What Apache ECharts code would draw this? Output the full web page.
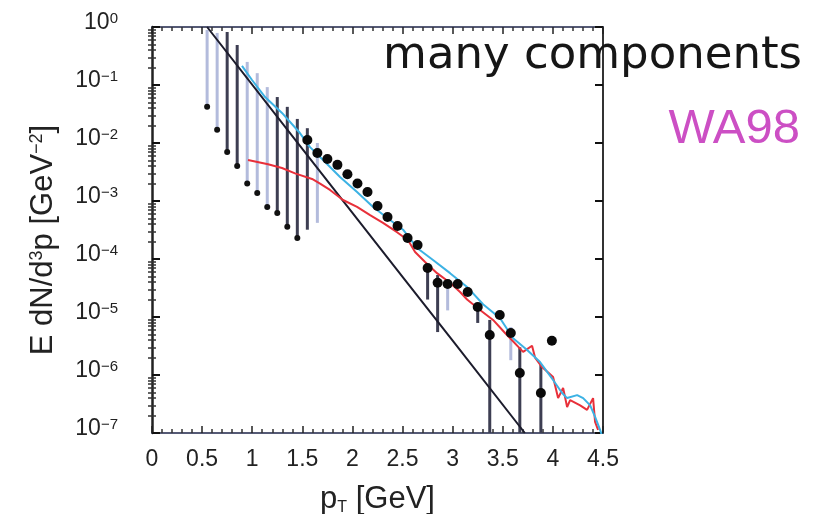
<!DOCTYPE html>
<html><head><meta charset="utf-8">
<script src="https://cdn.jsdelivr.net/npm/echarts@6/dist/echarts.min.js"></script>
<style>html,body{margin:0;padding:0;background:#fff}#c{width:824px;height:514px}</style>
</head><body><div id="c"></div>
<script>
// ---- data ----
// big data points
const ptMeas  = [1.55,1.65,1.75,1.85,1.95,2.05,2.15,2.25,2.35,2.45,2.55,2.65,2.75,2.85,2.95,3.05,3.15,3.25,3.37,3.47,3.58,3.67,3.88,3.99];
const valMeas = [1.13e-2,6.7e-3,5.3e-3,4.2e-3,2.9e-3,2.0e-3,1.43e-3,8.2e-4,5.3e-4,3.7e-4,2.3e-4,1.74e-4,7.0e-5,3.9e-5,3.7e-5,3.7e-5,2.7e-5,1.49e-5,4.9e-6,1.08e-5,5.3e-6,1.08e-6,4.9e-7,3.9e-6];
// small low-pT points
const ptLow  = [0.55,0.65,0.75,0.85,0.95,1.05,1.15,1.25,1.35,1.45];
const valLow = [4.2e-2,1.7e-2,7.0e-3,4.0e-3,2.0e-3,1.37e-3,7.9e-4,6.2e-4,3.6e-4,2.3e-4];
// error bars (dark)
const barDarkPt = [0.75,0.85,1.25,1.35,1.45,1.55,2.75,2.85,3.25,3.37,3.67,3.88];
const barDarkLo = [7.0e-3,4.0e-3,6.2e-4,3.6e-4,2.3e-4,3.2e-4,2.0e-5,5.5e-6,7.9e-6,1e-7,1e-7,1e-7];
const barDarkHi = [0.82,0.49,6.2e-2,4.2e-2,2.6e-2,1.8e-2,7.0e-5,5.3e-5,1.5e-5,8.9e-6,3.0e-6,1.5e-6];
// error bars (light)
const barLightPt = [0.55,0.65,0.95,1.05,1.15,1.65,2.95,3.58];
const barLightLo = [4.2e-2,1.7e-2,2.0e-3,1.37e-3,7.9e-4,4.2e-4,1.3e-5,1.8e-6];
const barLightHi = [0.89,0.79,0.25,0.16,9.2e-2,1.0e-2,3.3e-5,6.7e-6];
// straight (exponential) black curve
const blackPt  = [0.55,1.5,2.5,3.0,3.72];
const blackVal = [1.0,7.9e-3,4.9e-5,3.9e-6,1.0e-7];
// cyan curve (total)
const cyanPt  = [0.898,0.998,1.128,1.297,1.467,1.577,1.707,1.876,2.046,2.206,2.375,2.505,2.645,2.804,2.974,3.144,3.303,3.473,3.603,3.743,3.872,4.002,4.092,4.142,4.242,4.302,4.372,4.421,4.471,4.5];
const cyanVal = [0.213,0.122,6.2e-2,3.3e-2,1.55e-2,8.5e-3,5.1e-3,2.6e-3,1.43e-3,7.9e-4,4.7e-4,3.2e-4,1.55e-4,9.6e-5,5.7e-5,3.3e-5,1.66e-5,9.5e-6,4.3e-6,2.7e-6,1.67e-6,8.2e-7,4.9e-7,4.0e-7,4.5e-7,4.0e-7,3.0e-7,1.9e-7,1.13e-7,8e-8];
// red curve
const redPt  = [0.958,1.158,1.297,1.427,1.597,1.677,1.776,1.906,2.046,2.176,2.305,2.445,2.555,2.625,2.725,2.844,2.974,3.074,3.144,3.273,3.403,3.523,3.703,3.792,3.822,3.892,4.002,4.052,4.102,4.142,4.172,4.272,4.341,4.401,4.421,4.451];
const redVal = [5.1e-3,4.3e-3,3.7e-3,3.0e-3,2.4e-3,2.0e-3,1.55e-3,1.04e-3,7.9e-4,5.7e-4,4.2e-4,2.9e-4,2.1e-4,1.32e-4,8.9e-5,5.7e-5,3.9e-5,2.7e-5,2.0e-5,1.32e-5,8.9e-6,5.3e-6,2.5e-6,3.2e-6,2.0e-6,1.37e-6,9.2e-7,4.0e-7,6.0e-7,2.8e-7,3.7e-7,3.0e-7,2.5e-7,4.0e-7,1.55e-7,1.13e-7];
// axis ticks
const xMin = 0, xMax = 4.5, xStep = 0.5;
const yMinExp = -7, yMaxExp = 0;
const labelMany = 'many components';
const labelExp = 'WA98';

// ---- chart ----
const FF = '"Liberation Sans", Arial, sans-serif';
const zip = (a, b) => a.map((v, i) => [v, b[i]]);
const zip3 = (a, b, c) => a.map((v, i) => [v, b[i], c[i]]);
const minorVals = [];
for (let e = yMinExp; e < yMaxExp; e++) for (let k = 2; k <= 9; k++) minorVals.push(k * Math.pow(10, e));

function barSeries(data, color) {
  return {
    type: 'custom', xAxisIndex: 0, yAxisIndex: 0, clip: true, z: 2,
    data: data, encode: { x: 0, y: [1, 2] },
    renderItem: function (params, api) {
      const p1 = api.coord([api.value(0), api.value(1)]);
      const p2 = api.coord([api.value(0), api.value(2)]);
      return { type: 'line', shape: { x1: p1[0], y1: p1[1], x2: p2[0], y2: p2[1] },
               style: { stroke: color, lineWidth: 3 } };
    }
  };
}

const chart = echarts.init(document.getElementById('c'), null, { renderer: 'canvas' });
const yAxisBase = { type: 'log', logBase: 10, min: Math.pow(10, yMinExp), max: Math.pow(10, yMaxExp), splitLine: { show: false } };
chart.setOption({
  animation: false,
  backgroundColor: '#fff',
  grid: { left: 152, top: 27, right: 221, bottom: 81, containLabel: false, outerBoundsMode: 'none' },
  xAxis: [
    { type: 'value', min: xMin, max: xMax, interval: xStep, position: 'bottom',
      axisLine: { show: true, onZero: false, lineStyle: { color: '#555a75', width: 2 } },
      axisTick: { inside: true, length: 7, lineStyle: { color: '#222', width: 1.5 } },
      minorTick: { show: true, splitNumber: 5, length: 4, lineStyle: { color: '#333', width: 1.5 } },
      splitLine: { show: false },
      axisLabel: { fontSize: 23, color: '#222', margin: 15, fontFamily: FF, showMinLabel: true, showMaxLabel: true },
      name: '{a|p}{t|T}{a| [GeV]}', nameLocation: 'middle', nameGap: 46,
      nameTextStyle: { rich: {
        a: { fontSize: 31, fontFamily: FF, color: '#222', verticalAlign: 'top', lineHeight: 32 },
        t: { fontSize: 16, fontFamily: FF, color: '#222', verticalAlign: 'bottom', lineHeight: 16, padding: [24, 0, 0, 0] } } } },
    { type: 'value', min: xMin, max: xMax, interval: xStep, position: 'top',
      axisLine: { show: true, onZero: false, lineStyle: { color: '#555a75', width: 2 } },
      axisTick: { inside: true, length: 7, lineStyle: { color: '#222', width: 1.5 } },
      minorTick: { show: true, splitNumber: 5, length: 4, lineStyle: { color: '#333', width: 1.5 } },
      splitLine: { show: false }, axisLabel: { show: false } }
  ],
  yAxis: [
    Object.assign({}, yAxisBase, { position: 'left', splitNumber: 7,
      axisLine: { show: true, onZero: false, lineStyle: { color: '#222', width: 2.5 } },
      axisTick: { inside: true, length: 8, lineStyle: { color: '#111', width: 2 } },
      axisLabel: { margin: 34, color: '#222', fontFamily: FF, showMinLabel: true, showMaxLabel: true, padding: [0, 0, 8, 0],
        formatter: function (v) { const e = Math.round(Math.log10(v)); return '{b|10}{s|' + (e < 0 ? '\u2212' + (-e) : e) + '}'; },
        rich: { b: { fontSize: 23, fontFamily: FF, color: '#222', verticalAlign: 'bottom', lineHeight: 23 },
                s: { fontSize: 15, fontFamily: FF, color: '#222', verticalAlign: 'top', lineHeight: 15, padding: [0, 0, 16, 0] } } },
      name: '{a|E dN/d}{s|3}{a|p [GeV}{s|\u22122}{a|]}', nameLocation: 'middle', nameGap: 90, nameRotate: 90,
      nameTextStyle: { padding: [0, 20, 0, 0], rich: {
        a: { fontSize: 31, fontFamily: FF, color: '#222', verticalAlign: 'bottom', lineHeight: 31 },
        s: { fontSize: 18, fontFamily: FF, color: '#222', verticalAlign: 'top', lineHeight: 18, padding: [0, 0, 18, 0] } } } }),
    Object.assign({}, yAxisBase, { position: 'right', splitNumber: 7,
      axisLine: { show: true, onZero: false, lineStyle: { color: '#333', width: 2 } },
      axisTick: { inside: true, length: 8, lineStyle: { color: '#111', width: 2 } },
      axisLabel: { show: false } }),
    Object.assign({}, yAxisBase, { position: 'left',
      axisLine: { show: false }, axisLabel: { show: false },
      axisTick: { inside: true, length: 4, customValues: minorVals, lineStyle: { color: '#333', width: 1.5 } } }),
    Object.assign({}, yAxisBase, { position: 'right',
      axisLine: { show: false }, axisLabel: { show: false },
      axisTick: { inside: true, length: 4, customValues: minorVals, lineStyle: { color: '#333', width: 1.5 } } })
  ],
  series: [
    barSeries(zip3(barLightPt, barLightLo, barLightHi), '#b3bbdc'),
    barSeries(zip3(barDarkPt, barDarkLo, barDarkHi), '#3d3e52'),
    { type: 'line', data: zip(blackPt, blackVal), showSymbol: false, z: 3,
      lineStyle: { color: '#1c1c2c', width: 2 } },
    { type: 'line', data: zip(redPt, redVal), showSymbol: false, z: 4,
      lineStyle: { color: '#e8303a', width: 2 } },
    { type: 'line', data: zip(cyanPt, cyanVal), showSymbol: false, z: 5,
      lineStyle: { color: '#3cb2e4', width: 2 } },
    { type: 'scatter', data: zip(ptLow, valLow), symbol: 'circle', symbolSize: 6, z: 6,
      itemStyle: { color: '#111', opacity: 1 } },
    { type: 'scatter', data: zip(ptMeas, valMeas), symbol: 'circle', symbolSize: 10, z: 6,
      itemStyle: { color: '#0a0a0a', opacity: 1 } }
  ],
  graphic: [
    { type: 'text', right: 22, top: 34, z: 100,
      style: { text: labelMany, font: '45px "DejaVu Sans"', fill: '#161616' } },
    { type: 'text', right: 24, top: 105, z: 100,
      style: { text: labelExp, font: '49px "Liberation Sans"', fill: '#cc4fc4' } }
  ]
});
</script></body></html>
